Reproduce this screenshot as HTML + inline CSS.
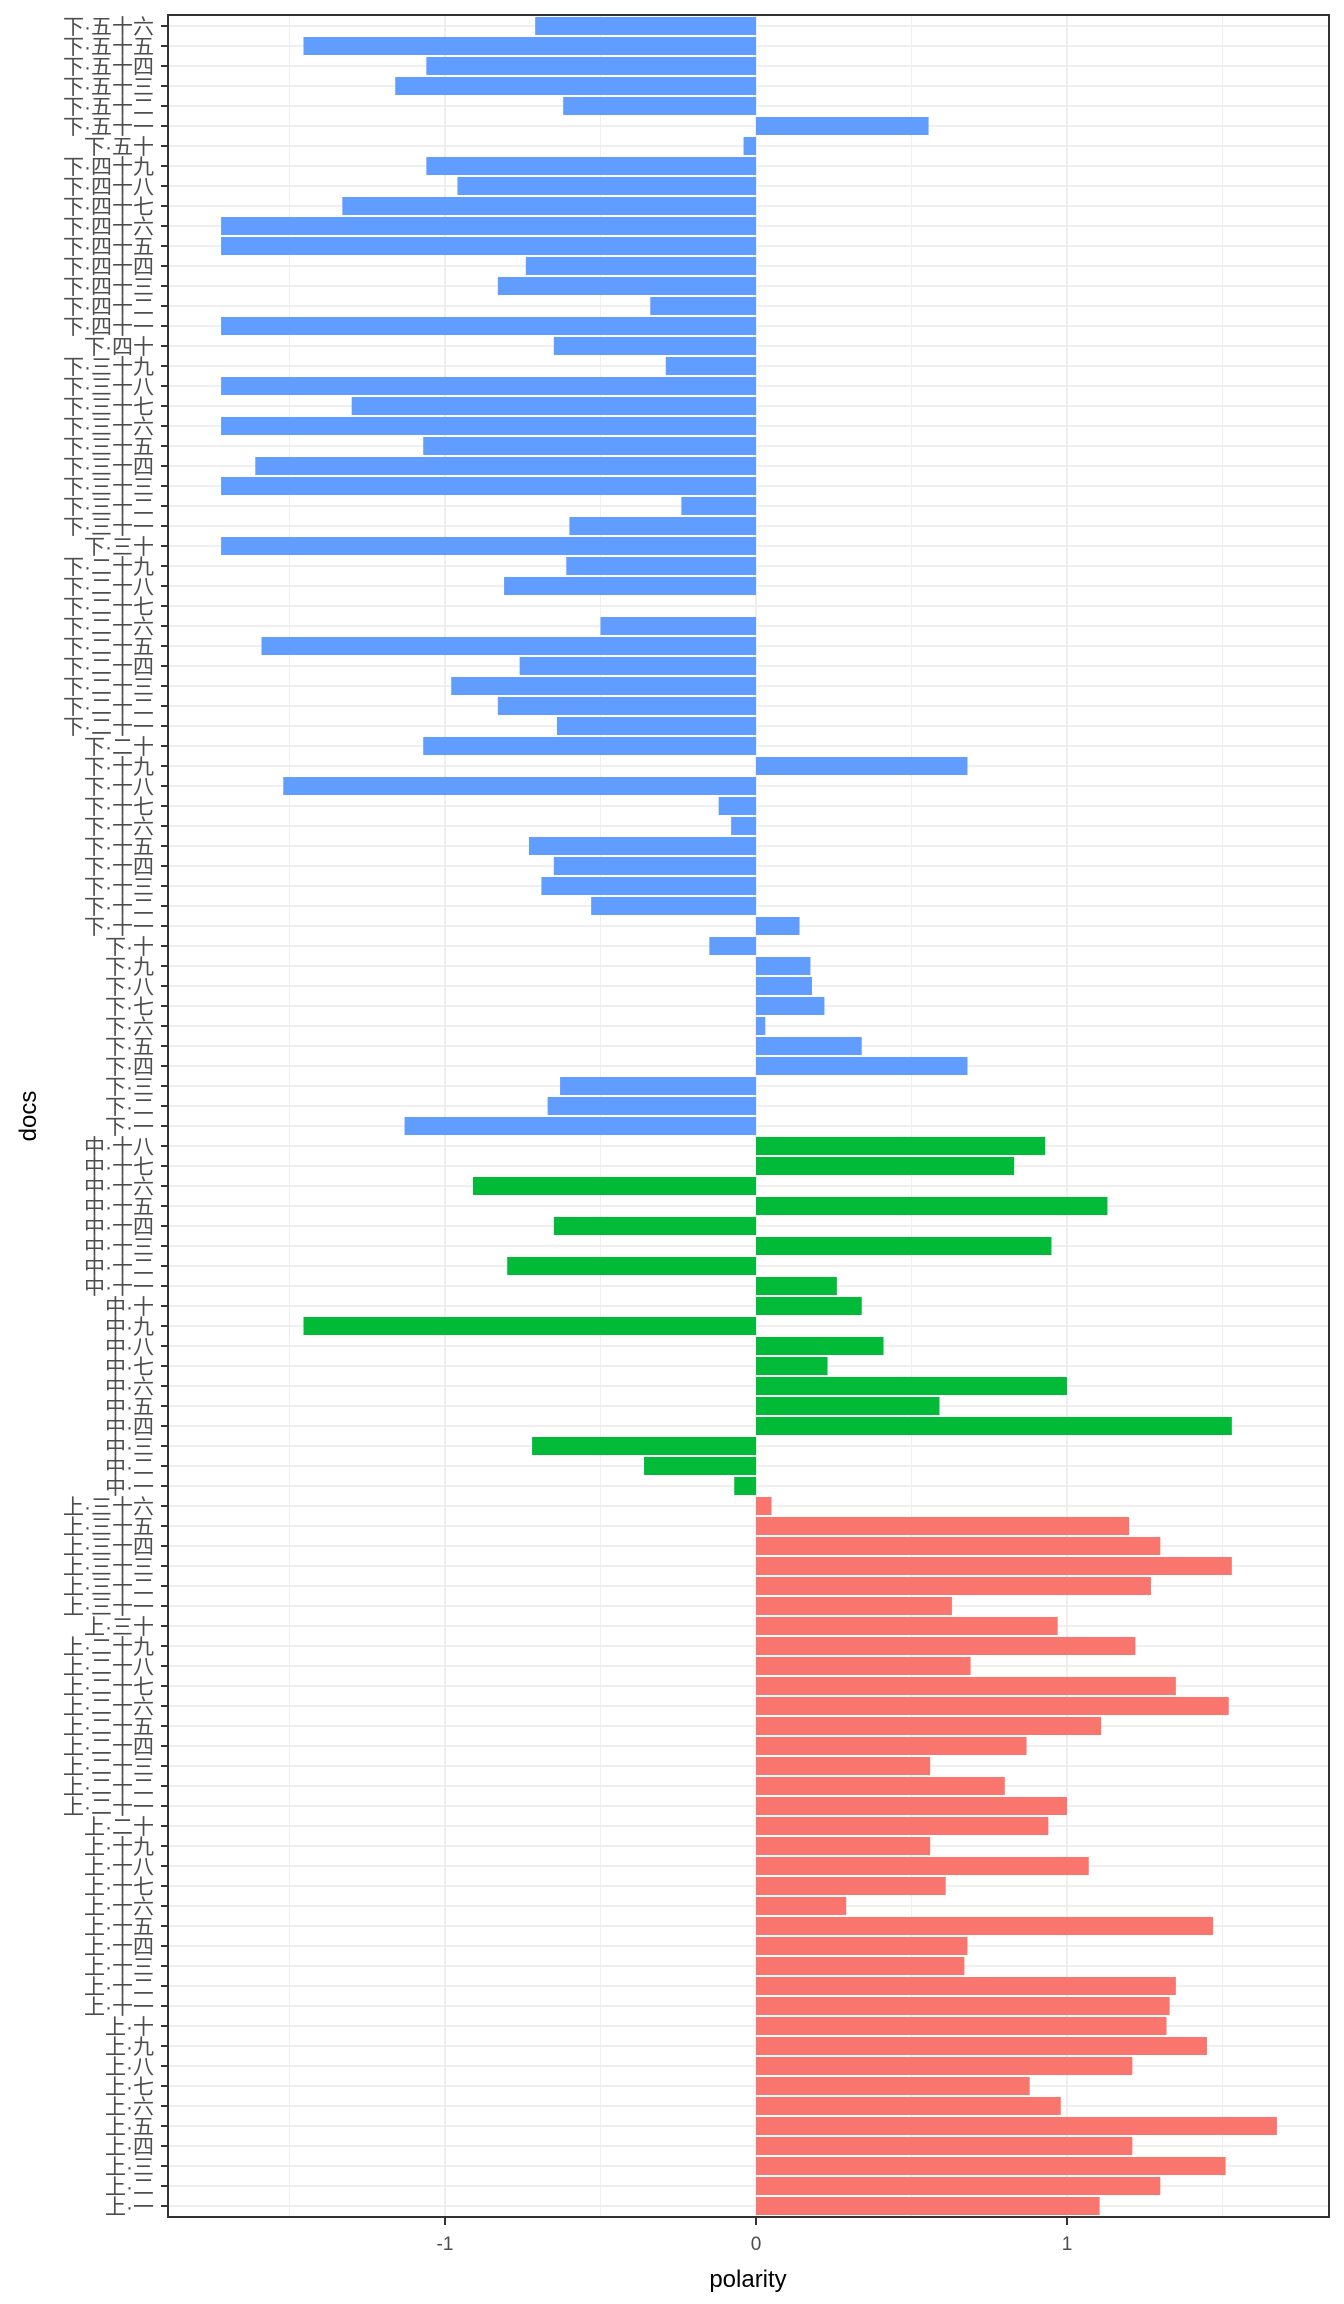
<!DOCTYPE html>
<html><head><meta charset="utf-8"><style>
html,body{margin:0;padding:0;background:#fff;}
svg{display:block;}
.l{font-family:"Liberation Sans","Noto Sans CJK SC",sans-serif;font-size:21px;fill:#4D4D4D;text-anchor:end;}
</style></head><body>
<svg width="1344" height="2304" viewBox="0 0 1344 2304" xmlns="http://www.w3.org/2000/svg">
<defs>
<pattern id="gh" patternUnits="userSpaceOnUse" x="0" y="16" width="10" height="20"><rect x="0" y="9.2" width="10" height="1.6" fill="#EBEBEB"/></pattern>
<pattern id="tk" patternUnits="userSpaceOnUse" x="0" y="16" width="10" height="20"><rect x="0" y="9" width="10" height="2" fill="#333"/></pattern>
</defs>
<rect x="168" y="15" width="1161" height="2202" fill="#fff"/>
<g fill="#EBEBEB">
<rect x="289" y="15" width="0.8" height="2202"/><rect x="600" y="15" width="0.8" height="2202"/><rect x="911" y="15" width="0.8" height="2202"/><rect x="1222" y="15" width="0.8" height="2202"/>
<rect x="444.2" y="15" width="1.6" height="2202"/><rect x="755.2" y="15" width="1.6" height="2202"/><rect x="1066.2" y="15" width="1.6" height="2202"/>
</g>
<rect x="168" y="16" width="1161" height="2200" fill="url(#gh)"/>
<g transform="translate(756,0) scale(311,1)">
<g fill="#619CFF">
<rect x="-0.71" width="0.71" y="17" height="18"/>
<rect x="-1.455" width="1.455" y="37" height="18"/>
<rect x="-1.06" width="1.06" y="57" height="18"/>
<rect x="-1.16" width="1.16" y="77" height="18"/>
<rect x="-0.62" width="0.62" y="97" height="18"/>
<rect x="0" width="0.555" y="117" height="18"/>
<rect x="-0.04" width="0.04" y="137" height="18"/>
<rect x="-1.06" width="1.06" y="157" height="18"/>
<rect x="-0.96" width="0.96" y="177" height="18"/>
<rect x="-1.33" width="1.33" y="197" height="18"/>
<rect x="-1.72" width="1.72" y="217" height="18"/>
<rect x="-1.72" width="1.72" y="237" height="18"/>
<rect x="-0.74" width="0.74" y="257" height="18"/>
<rect x="-0.83" width="0.83" y="277" height="18"/>
<rect x="-0.34" width="0.34" y="297" height="18"/>
<rect x="-1.72" width="1.72" y="317" height="18"/>
<rect x="-0.65" width="0.65" y="337" height="18"/>
<rect x="-0.29" width="0.29" y="357" height="18"/>
<rect x="-1.72" width="1.72" y="377" height="18"/>
<rect x="-1.30" width="1.30" y="397" height="18"/>
<rect x="-1.72" width="1.72" y="417" height="18"/>
<rect x="-1.07" width="1.07" y="437" height="18"/>
<rect x="-1.61" width="1.61" y="457" height="18"/>
<rect x="-1.72" width="1.72" y="477" height="18"/>
<rect x="-0.24" width="0.24" y="497" height="18"/>
<rect x="-0.60" width="0.60" y="517" height="18"/>
<rect x="-1.72" width="1.72" y="537" height="18"/>
<rect x="-0.61" width="0.61" y="557" height="18"/>
<rect x="-0.81" width="0.81" y="577" height="18"/>
<rect x="-0.50" width="0.50" y="617" height="18"/>
<rect x="-1.59" width="1.59" y="637" height="18"/>
<rect x="-0.76" width="0.76" y="657" height="18"/>
<rect x="-0.98" width="0.98" y="677" height="18"/>
<rect x="-0.83" width="0.83" y="697" height="18"/>
<rect x="-0.64" width="0.64" y="717" height="18"/>
<rect x="-1.07" width="1.07" y="737" height="18"/>
<rect x="0" width="0.68" y="757" height="18"/>
<rect x="-1.52" width="1.52" y="777" height="18"/>
<rect x="-0.12" width="0.12" y="797" height="18"/>
<rect x="-0.08" width="0.08" y="817" height="18"/>
<rect x="-0.73" width="0.73" y="837" height="18"/>
<rect x="-0.65" width="0.65" y="857" height="18"/>
<rect x="-0.69" width="0.69" y="877" height="18"/>
<rect x="-0.53" width="0.53" y="897" height="18"/>
<rect x="0" width="0.14" y="917" height="18"/>
<rect x="-0.15" width="0.15" y="937" height="18"/>
<rect x="0" width="0.175" y="957" height="18"/>
<rect x="0" width="0.18" y="977" height="18"/>
<rect x="0" width="0.22" y="997" height="18"/>
<rect x="0" width="0.03" y="1017" height="18"/>
<rect x="0" width="0.34" y="1037" height="18"/>
<rect x="0" width="0.68" y="1057" height="18"/>
<rect x="-0.63" width="0.63" y="1077" height="18"/>
<rect x="-0.67" width="0.67" y="1097" height="18"/>
<rect x="-1.13" width="1.13" y="1117" height="18"/>
</g>
<g fill="#00BA38">
<rect x="0" width="0.93" y="1137" height="18"/>
<rect x="0" width="0.83" y="1157" height="18"/>
<rect x="-0.91" width="0.91" y="1177" height="18"/>
<rect x="0" width="1.13" y="1197" height="18"/>
<rect x="-0.65" width="0.65" y="1217" height="18"/>
<rect x="0" width="0.95" y="1237" height="18"/>
<rect x="-0.80" width="0.80" y="1257" height="18"/>
<rect x="0" width="0.26" y="1277" height="18"/>
<rect x="0" width="0.34" y="1297" height="18"/>
<rect x="-1.455" width="1.455" y="1317" height="18"/>
<rect x="0" width="0.41" y="1337" height="18"/>
<rect x="0" width="0.23" y="1357" height="18"/>
<rect x="0" width="1.0" y="1377" height="18"/>
<rect x="0" width="0.59" y="1397" height="18"/>
<rect x="0" width="1.53" y="1417" height="18"/>
<rect x="-0.72" width="0.72" y="1437" height="18"/>
<rect x="-0.36" width="0.36" y="1457" height="18"/>
<rect x="-0.07" width="0.07" y="1477" height="18"/>
</g>
<g fill="#F8766D">
<rect x="0" width="0.05" y="1497" height="18"/>
<rect x="0" width="1.20" y="1517" height="18"/>
<rect x="0" width="1.30" y="1537" height="18"/>
<rect x="0" width="1.53" y="1557" height="18"/>
<rect x="0" width="1.27" y="1577" height="18"/>
<rect x="0" width="0.63" y="1597" height="18"/>
<rect x="0" width="0.97" y="1617" height="18"/>
<rect x="0" width="1.22" y="1637" height="18"/>
<rect x="0" width="0.69" y="1657" height="18"/>
<rect x="0" width="1.35" y="1677" height="18"/>
<rect x="0" width="1.52" y="1697" height="18"/>
<rect x="0" width="1.11" y="1717" height="18"/>
<rect x="0" width="0.87" y="1737" height="18"/>
<rect x="0" width="0.56" y="1757" height="18"/>
<rect x="0" width="0.80" y="1777" height="18"/>
<rect x="0" width="1.0" y="1797" height="18"/>
<rect x="0" width="0.94" y="1817" height="18"/>
<rect x="0" width="0.56" y="1837" height="18"/>
<rect x="0" width="1.07" y="1857" height="18"/>
<rect x="0" width="0.61" y="1877" height="18"/>
<rect x="0" width="0.29" y="1897" height="18"/>
<rect x="0" width="1.47" y="1917" height="18"/>
<rect x="0" width="0.68" y="1937" height="18"/>
<rect x="0" width="0.67" y="1957" height="18"/>
<rect x="0" width="1.35" y="1977" height="18"/>
<rect x="0" width="1.33" y="1997" height="18"/>
<rect x="0" width="1.32" y="2017" height="18"/>
<rect x="0" width="1.45" y="2037" height="18"/>
<rect x="0" width="1.21" y="2057" height="18"/>
<rect x="0" width="0.88" y="2077" height="18"/>
<rect x="0" width="0.98" y="2097" height="18"/>
<rect x="0" width="1.675" y="2117" height="18"/>
<rect x="0" width="1.21" y="2137" height="18"/>
<rect x="0" width="1.51" y="2157" height="18"/>
<rect x="0" width="1.30" y="2177" height="18"/>
<rect x="0" width="1.105" y="2197" height="18"/>
</g>
</g>
<rect x="168" y="15" width="1161" height="2202" fill="none" stroke="#333" stroke-width="2"/>
<rect x="161" y="16" width="7" height="2200" fill="url(#tk)"/>
<g fill="#333"><rect x="444" y="2218" width="2" height="7"/><rect x="755" y="2218" width="2" height="7"/><rect x="1066" y="2218" width="2" height="7"/></g>
<g font-family="Liberation Sans, sans-serif" font-size="19" fill="#4D4D4D" text-anchor="middle">
<text x="445" y="2250">-1</text><text x="756" y="2250">0</text><text x="1067" y="2250">1</text>
</g>
<text x="748" y="2287" font-family="Liberation Sans, sans-serif" font-size="24" text-anchor="middle" fill="#000">polarity</text>
<text transform="translate(36,1116) rotate(-90)" font-family="Liberation Sans, sans-serif" font-size="24" text-anchor="middle" fill="#000">docs</text>
<g class="l" transform="translate(0,1)">
<text x="154" y="33">下·五十六</text>
<text x="154" y="53">下·五十五</text>
<text x="154" y="73">下·五十四</text>
<text x="154" y="93">下·五十三</text>
<text x="154" y="113">下·五十二</text>
<text x="154" y="133">下·五十一</text>
<text x="154" y="153">下·五十</text>
<text x="154" y="173">下·四十九</text>
<text x="154" y="193">下·四十八</text>
<text x="154" y="213">下·四十七</text>
<text x="154" y="233">下·四十六</text>
<text x="154" y="253">下·四十五</text>
<text x="154" y="273">下·四十四</text>
<text x="154" y="293">下·四十三</text>
<text x="154" y="313">下·四十二</text>
<text x="154" y="333">下·四十一</text>
<text x="154" y="353">下·四十</text>
<text x="154" y="373">下·三十九</text>
<text x="154" y="393">下·三十八</text>
<text x="154" y="413">下·三十七</text>
<text x="154" y="433">下·三十六</text>
<text x="154" y="453">下·三十五</text>
<text x="154" y="473">下·三十四</text>
<text x="154" y="493">下·三十三</text>
<text x="154" y="513">下·三十二</text>
<text x="154" y="533">下·三十一</text>
<text x="154" y="553">下·三十</text>
<text x="154" y="573">下·二十九</text>
<text x="154" y="593">下·二十八</text>
<text x="154" y="613">下·二十七</text>
<text x="154" y="633">下·二十六</text>
<text x="154" y="653">下·二十五</text>
<text x="154" y="673">下·二十四</text>
<text x="154" y="693">下·二十三</text>
<text x="154" y="713">下·二十二</text>
<text x="154" y="733">下·二十一</text>
<text x="154" y="753">下·二十</text>
<text x="154" y="773">下·十九</text>
<text x="154" y="793">下·十八</text>
<text x="154" y="813">下·十七</text>
<text x="154" y="833">下·十六</text>
<text x="154" y="853">下·十五</text>
<text x="154" y="873">下·十四</text>
<text x="154" y="893">下·十三</text>
<text x="154" y="913">下·十二</text>
<text x="154" y="933">下·十一</text>
<text x="154" y="953">下·十</text>
<text x="154" y="973">下·九</text>
<text x="154" y="993">下·八</text>
<text x="154" y="1013">下·七</text>
<text x="154" y="1033">下·六</text>
<text x="154" y="1053">下·五</text>
<text x="154" y="1073">下·四</text>
<text x="154" y="1093">下·三</text>
<text x="154" y="1113">下·二</text>
<text x="154" y="1133">下·一</text>
<text x="154" y="1153">中·十八</text>
<text x="154" y="1173">中·十七</text>
<text x="154" y="1193">中·十六</text>
<text x="154" y="1213">中·十五</text>
<text x="154" y="1233">中·十四</text>
<text x="154" y="1253">中·十三</text>
<text x="154" y="1273">中·十二</text>
<text x="154" y="1293">中·十一</text>
<text x="154" y="1313">中·十</text>
<text x="154" y="1333">中·九</text>
<text x="154" y="1353">中·八</text>
<text x="154" y="1373">中·七</text>
<text x="154" y="1393">中·六</text>
<text x="154" y="1413">中·五</text>
<text x="154" y="1433">中·四</text>
<text x="154" y="1453">中·三</text>
<text x="154" y="1473">中·二</text>
<text x="154" y="1493">中·一</text>
<text x="154" y="1513">上·三十六</text>
<text x="154" y="1533">上·三十五</text>
<text x="154" y="1553">上·三十四</text>
<text x="154" y="1573">上·三十三</text>
<text x="154" y="1593">上·三十二</text>
<text x="154" y="1613">上·三十一</text>
<text x="154" y="1633">上·三十</text>
<text x="154" y="1653">上·二十九</text>
<text x="154" y="1673">上·二十八</text>
<text x="154" y="1693">上·二十七</text>
<text x="154" y="1713">上·二十六</text>
<text x="154" y="1733">上·二十五</text>
<text x="154" y="1753">上·二十四</text>
<text x="154" y="1773">上·二十三</text>
<text x="154" y="1793">上·二十二</text>
<text x="154" y="1813">上·二十一</text>
<text x="154" y="1833">上·二十</text>
<text x="154" y="1853">上·十九</text>
<text x="154" y="1873">上·十八</text>
<text x="154" y="1893">上·十七</text>
<text x="154" y="1913">上·十六</text>
<text x="154" y="1933">上·十五</text>
<text x="154" y="1953">上·十四</text>
<text x="154" y="1973">上·十三</text>
<text x="154" y="1993">上·十二</text>
<text x="154" y="2013">上·十一</text>
<text x="154" y="2033">上·十</text>
<text x="154" y="2053">上·九</text>
<text x="154" y="2073">上·八</text>
<text x="154" y="2093">上·七</text>
<text x="154" y="2113">上·六</text>
<text x="154" y="2133">上·五</text>
<text x="154" y="2153">上·四</text>
<text x="154" y="2173">上·三</text>
<text x="154" y="2193">上·二</text>
<text x="154" y="2213">上·一</text>
</g>
</svg>
</body></html>
